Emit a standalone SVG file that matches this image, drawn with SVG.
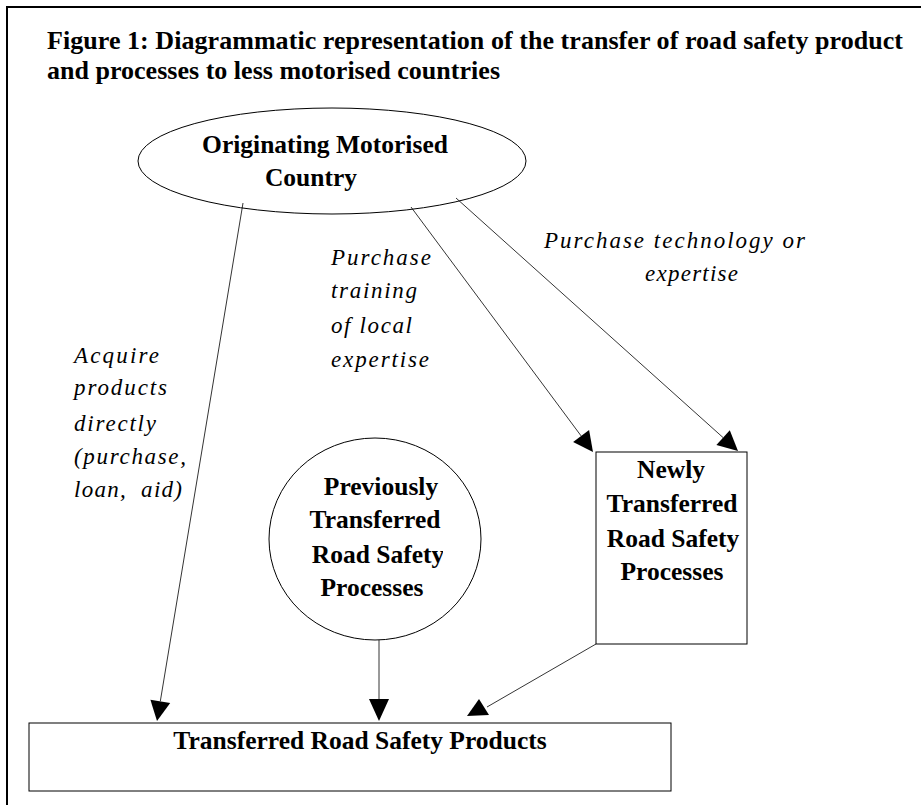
<svg xmlns="http://www.w3.org/2000/svg" width="923" height="805" viewBox="0 0 923 805">
<style>
.t{font-family:"Liberation Serif","Times New Roman",serif;font-weight:bold;font-size:26px;fill:#000}
.n{font-family:"Liberation Serif","Times New Roman",serif;font-weight:bold;font-size:25.5px;fill:#000;text-anchor:middle}
.l{font-family:"Liberation Serif","Times New Roman",serif;font-style:italic;font-size:23px;fill:#000}
.s{fill:#fff;stroke:#000;stroke-width:1}
.c{stroke:#000;stroke-width:0.8;fill:none}
.h{fill:#000;stroke:none}
</style>
<defs>
<clipPath id="cc"><rect x="260" y="530" width="183" height="45"/></clipPath>
</defs>
<rect width="923" height="805" fill="#fff"/>
<g id="frame">
<path d="M7 805V7H921" fill="none" stroke="#000" stroke-width="2"/>
</g>
<g id="title">
<text class="t" x="47" y="49" textLength="856">Figure 1: Diagrammatic representation of the transfer of road safety product</text>
<text class="t" x="47" y="79" textLength="453">and processes to less motorised countries</text>
</g>
<g id="origin">
<ellipse class="s" cx="332" cy="161" rx="194" ry="53"/>
<text class="n" x="325" y="153">Originating Motorised</text>
<text class="n" x="311" y="186">Country</text>
</g>
<g id="previous">
<ellipse class="s" cx="375" cy="539" rx="106" ry="101"/>
<text class="n" x="381" y="495">Previously</text>
<text class="n" x="375" y="528">Transferred</text>
<text class="n" x="378" y="563" clip-path="url(#cc)">Road Safety</text>
<text class="n" x="372" y="596">Processes</text>
</g>
<g id="newly">
<rect class="s" x="596" y="452" width="151" height="192"/>
<text class="n" x="671" y="478">Newly</text>
<text class="n" x="672" y="512">Transferred</text>
<text class="n" x="673" y="547">Road Safety</text>
<text class="n" x="672" y="580">Processes</text>
</g>
<g id="products">
<rect class="s" x="29" y="723" width="642" height="68"/>
<text class="n" x="360" y="749">Transferred Road Safety Products</text>
</g>
<g id="labels">
<text class="l" x="74" y="363" textLength="85">Acquire</text>
<text class="l" x="74" y="395" textLength="93">products</text>
<text class="l" x="74" y="431" textLength="82">directly</text>
<text class="l" x="74" y="464" textLength="112">(purchase,</text>
<text class="l" x="74" y="497" textLength="108" xml:space="preserve">loan,  aid)</text>
<text class="l" x="331" y="265" textLength="100">Purchase</text>
<text class="l" x="331" y="298" textLength="86">training</text>
<text class="l" x="331" y="333" textLength="81">of local</text>
<text class="l" x="331" y="367" textLength="98">expertise</text>
<text class="l" x="544" y="248" textLength="261">Purchase technology or</text>
<text class="l" x="645" y="281" textLength="93">expertise</text>
</g>
<g id="connectors">
<line class="c" x1="243" y1="203" x2="160.3" y2="701.3"/>
<polygon class="h" points="157,721 170.2,702.9 150.4,699.7"/>
<line class="c" x1="411" y1="207" x2="581.1" y2="435.9"/>
<polygon class="h" points="593,452 589.1,429.9 573.1,441.9"/>
<line class="c" x1="456" y1="198" x2="723.1" y2="437.6"/>
<polygon class="h" points="738,451 729.8,430.2 716.4,445"/>
<line class="c" x1="379" y1="640" x2="379" y2="699"/>
<polygon class="h" points="379,721 369,699 389,699"/>
<line class="c" x1="596" y1="644" x2="487" y2="707"/>
<polygon class="h" points="479,699 467,716 489,715"/>
</g>
</svg>
